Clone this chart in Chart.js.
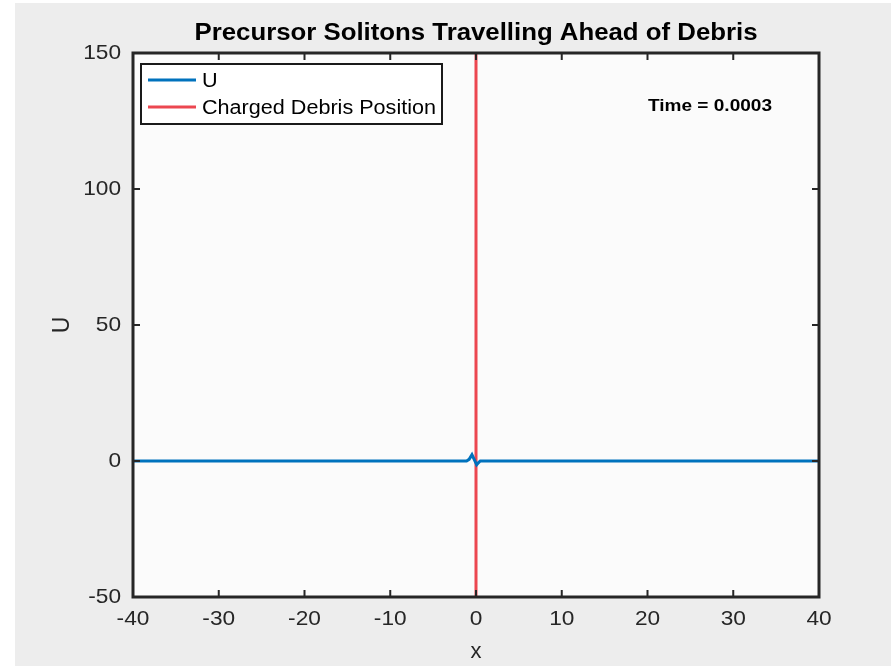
<!DOCTYPE html>
<html>
<head>
<meta charset="utf-8">
<script src="https://cdn.jsdelivr.net/npm/chart.js@4"></script>
<style>
  html, body { margin: 0; padding: 0; background: #ffffff; }
  canvas { display: block; }
</style>
</head>
<body>
<canvas id="myChart" width="891" height="666"></canvas>
<script>
// values
const uX = [-40, -1.1, -0.8, -0.47, -0.2, 0.08, 0.3, 0.5, 40];
const uY = [0, 0, 0.6, 2.3, 0.5, -1.4, -0.6, 0, 0];
const debrisX = [0, 0];
const debrisY = [-50, 150];
const xRange = [-40, 40];
const yRange = [-50, 150];
const xStep = 10;
const yStep = 50;
const titleText = "Precursor Solitons Travelling Ahead of Debris";
const timeText = "Time = 0.0003";
const seriesNames = ["U", "Charged Debris Position"];

const font = "'Liberation Sans', Arial, Helvetica, sans-serif";
const axisColor = "#262626";

// text with a little horizontal stretch, the reference font runs wide
function wideText(ctx, text, x, y, sx) {
    ctx.save();
    ctx.translate(x, y);
    ctx.scale(sx, 1);
    ctx.fillText(text, 0, 0);
    ctx.restore();
}

let frame = {
    id: 'frame',
    beforeDraw: function (chart) {
        let ctx = chart.ctx;
        let a = chart.chartArea;
        ctx.save();
        ctx.fillStyle = "#ededed";
        ctx.fillRect(15, 3, chart.width - 15, chart.height - 3);
        ctx.fillStyle = "#fbfbfb";
        ctx.fillRect(a.left, a.top, a.right - a.left, a.bottom - a.top);
        ctx.restore();
    },
    afterDatasetsDraw: function (chart) {
        let ctx = chart.ctx;
        let a = chart.chartArea;
        let xs = chart.scales.x;
        let ys = chart.scales.y;
        ctx.save();

        // inward ticks on all four sides
        ctx.strokeStyle = axisColor;
        ctx.lineWidth = 2;
        let tl = 7;
        ctx.beginPath();
        for (let t of xs.ticks) {
            let px = xs.getPixelForValue(t.value);
            ctx.moveTo(px, a.bottom); ctx.lineTo(px, a.bottom - tl);
            ctx.moveTo(px, a.top); ctx.lineTo(px, a.top + tl);
        }
        for (let t of ys.ticks) {
            let py = ys.getPixelForValue(t.value);
            ctx.moveTo(a.left, py); ctx.lineTo(a.left + tl, py);
            ctx.moveTo(a.right, py); ctx.lineTo(a.right - tl, py);
        }
        ctx.stroke();

        // box
        ctx.lineWidth = 3;
        ctx.strokeRect(a.left, a.top, a.right - a.left, a.bottom - a.top);

        // tick labels
        ctx.fillStyle = axisColor;
        ctx.font = "21px " + font;
        ctx.textAlign = "center";
        ctx.textBaseline = "middle";
        for (let t of xs.ticks) {
            wideText(ctx, String(t.value), xs.getPixelForValue(t.value), a.bottom + 22, 1.08);
        }
        ctx.textAlign = "right";
        for (let t of ys.ticks) {
            wideText(ctx, String(t.value), a.left - 12, ys.getPixelForValue(t.value), 1.08);
        }

        // axis labels
        ctx.textAlign = "center";
        ctx.font = "22px " + font;
        ctx.fillText("x", (a.left + a.right) / 2, a.bottom + 55);
        ctx.save();
        ctx.translate(63, (a.top + a.bottom) / 2);
        ctx.rotate(-Math.PI / 2);
        ctx.font = "23px " + font;
        ctx.fillText("U", 0, 0);
        ctx.restore();

        // title
        ctx.fillStyle = "#000000";
        ctx.font = "bold 23px " + font;
        let w = ctx.measureText(titleText).width;
        wideText(ctx, titleText, (a.left + a.right) / 2, 34, 563 / w);

        // time annotation
        ctx.font = "bold 16px " + font;
        w = ctx.measureText(timeText).width;
        wideText(ctx, timeText, 710, 107, 124 / w);

        // legend
        let lx = 141, ly = 64, lw = 301, lh = 60;
        ctx.fillStyle = "#ffffff";
        ctx.fillRect(lx, ly, lw, lh);
        ctx.strokeStyle = "#1a1a1a";
        ctx.lineWidth = 2;
        ctx.strokeRect(lx, ly, lw, lh);
        ctx.font = "20px " + font;
        ctx.textAlign = "left";
        chart.data.datasets.forEach(function (ds, i) {
            let yy = ly + 16 + i * 27;
            ctx.strokeStyle = ds.borderColor;
            ctx.lineWidth = 3;
            ctx.beginPath();
            ctx.moveTo(lx + 7, yy);
            ctx.lineTo(lx + 55, yy);
            ctx.stroke();
            ctx.fillStyle = "#000000";
            let tw = ctx.measureText(ds.label).width;
            let sx = i === 1 ? 234 / tw : 1.08;
            wideText(ctx, ds.label, lx + 61, yy + 1, sx);
        });

        ctx.restore();
    }
};

new Chart("myChart", {
    type: "line",
    data: {
        datasets: [{
            label: seriesNames[0],
            data: uX.map((x, i) => ({ x: x, y: uY[i] })),
            borderColor: "#0072BD",
            borderWidth: 3,
            pointRadius: 0,
            tension: 0
        }, {
            label: seriesNames[1],
            data: debrisX.map((x, i) => ({ x: x, y: debrisY[i] })),
            borderColor: "#ec4750",
            borderWidth: 3,
            pointRadius: 0,
            tension: 0
        }]
    },
    options: {
        responsive: false,
        animation: false,
        devicePixelRatio: 1,
        layout: { padding: { left: 133, top: 53, right: 72, bottom: 69 } },
        plugins: {
            legend: { display: false },
            title: { display: false },
            tooltip: { enabled: false }
        },
        scales: {
            x: {
                type: "linear",
                display: false,
                min: xRange[0],
                max: xRange[1],
                ticks: { stepSize: xStep }
            },
            y: {
                type: "linear",
                display: false,
                min: yRange[0],
                max: yRange[1],
                ticks: { stepSize: yStep }
            }
        }
    },
    plugins: [frame]
});
</script>
</body>
</html>
